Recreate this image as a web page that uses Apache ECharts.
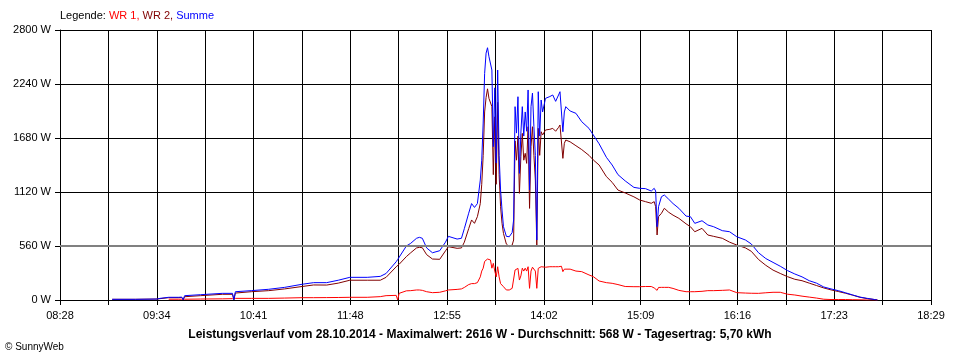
<!DOCTYPE html>
<html>
<head>
<meta charset="utf-8">
<script src="https://cdn.jsdelivr.net/npm/echarts@6/dist/echarts.min.js"></script>
<style>html,body{margin:0;padding:0;background:#fff}#c{width:960px;height:360px}</style>
</head>
<body>
<div id="c"></div>
<script>
const times = ['09:04','09:20','09:35','09:37','09:43','09:50','09:52','09:53','09:54','10:05',
'10:20','10:27','10:28','10:29','10:40','10:52','11:03','11:15','11:23','11:32',
'11:40','11:48','12:00','12:09','12:13','12:20','12:21','12:22','12:27','12:30',
'12:34','12:36','12:38','12:41','12:45','12:50','12:54','12:56','13:02','13:05',
'13:07','13:10','13:12','13:14','13:16','13:18','13:19','13:20','13:21','13:22',
'13:23','13:24','13:25','13:26','13:27','13:28','13:29','13:30','13:31','13:32',
'13:33','13:34','13:36','13:38','13:40','13:41','13:42','13:43','13:44','13:45',
'13:46','13:47','13:48','13:49','13:50','13:51','13:52','13:53','13:54','13:55',
'13:56','13:57','13:58','13:59','14:00','14:01','14:03','14:06','14:08','14:10',
'14:12','14:13','14:14','14:15','14:16','14:17','14:20','14:24','14:28','14:33',
'14:36','14:40','14:45','14:49','14:53','14:58','15:04','15:08','15:12','15:16',
'15:18','15:19','15:20','15:21','15:23','15:25','15:28','15:31','15:35','15:40',
'15:43','15:46','15:51','15:55','15:59','16:05','16:10','16:15','16:21','16:25',
'16:30','16:35','16:40','16:45','16:50','16:55','17:00','17:05','17:10','17:15',
'17:20','17:25','17:30','17:35','17:40','17:45','17:50','17:52'];

const summe = [7,7,10,17,28,28,30,3,45,55,
69,69,3,86,97,111,131,163,180,180,
205,235,235,245,275,397,420,440,560,588,
640,650,640,540,490,511,600,660,632,640,
740,900,1000,960,1000,1244,1450,1835,2350,2560,
2616,2523,2520,2385,1590,2200,1420,2385,1500,1141,
933,760,660,656,700,830,2005,1731,2108,1313,
1730,2005,1700,1950,1750,2178,1141,2005,2146,1800,
1500,622,2160,1700,2074,1950,2091,2110,2126,2060,
2126,2160,2178,1745,1950,2005,1960,1936,1849,1780,
1711,1620,1480,1400,1300,1235,1168,1158,1155,1130,
1158,1130,760,968,1071,1089,1045,1000,951,870,
864,795,822,778,760,719,708,656,622,581,
490,430,390,350,305,270,240,200,175,135,
115,97,75,52,30,17,5,0];

const wr2 = [7,7,10,14,24,24,26,3,34,45,
59,59,3,72,86,97,115,140,156,155,
175,205,205,205,235,345,360,370,450,490,
540,546,542,470,425,422,510,553,536,540,
600,740,830,795,864,1000,1200,1500,1950,2100,
2190,2090,2100,2005,1300,1900,1200,2050,1300,968,
795,690,580,553,570,622,1650,1450,1700,1106,
1486,1728,1450,1521,1417,1797,950,1590,1797,1500,
1244,570,1780,1500,1745,1711,1763,1770,1780,1750,
1790,1815,1832,1469,1625,1659,1640,1600,1560,1500,
1452,1400,1280,1220,1140,1110,1070,1037,1020,1003,
1020,968,674,864,899,951,910,880,847,790,
760,708,743,674,660,640,600,570,540,505,
420,360,310,275,242,215,200,175,150,125,
105,88,70,50,28,14,5,0];

const wr1 = [null,null,null,null,8,8,8,3,8,10,
12,14,14,17,17,17,20,24,24,25,
26,28,28,35,45,48,0,69,95,97,
104,104,100,86,76,80,95,104,110,115,
130,160,170,170,180,240,300,330,400,420,
425,420,415,330,380,300,240,345,240,170,
150,138,104,104,121,140,311,300,328,207,
250,330,300,330,300,345,121,300,340,330,
300,121,328,320,345,330,340,345,345,345,
345,350,350,294,320,328,320,300,294,260,
242,197,180,173,160,140,138,138,140,140,
125,121,100,130,131,131,131,120,100,86,
86,86,90,97,97,100,104,76,72,70,
69,75,80,80,60,52,40,30,20,8,
5,5,5,3,2,0,0,0];

const xTickLabels = ['08:28','09:34','10:41','11:48','12:55','14:02','15:09','16:16','17:23','18:29'];
const yTicks = [0,560,1120,1680,2240,2800];

const toMin = s => { const p = s.split(':'); return (+p[0])*60 + (+p[1]); };
const xMin = toMin(xTickLabels[0]);
const xMax = toMin(xTickLabels[xTickLabels.length-1]);
const pairs = arr => times.map((t,i) => [toMin(t), arr[i]]);

const FONT = 'Liberation Sans';
const chart = echarts.init(document.getElementById('c'), null, {renderer:'canvas'});
chart.setOption({
  animation: false,
  backgroundColor: '#fff',
  textStyle: {fontFamily: FONT},
  title: [
    {text: '{k|Legende: }{a|WR 1, }{b|WR 2, }{c|Summe}', left: 60, top: 10, padding: 0,
     textStyle: {fontSize: 11, fontWeight: 'normal', fontFamily: FONT,
       rich: {k:{color:'#000',fontSize:11,fontFamily:FONT}, a:{color:'#ff0000',fontSize:11,fontFamily:FONT},
              b:{color:'#800000',fontSize:11,fontFamily:FONT}, c:{color:'#0000ff',fontSize:11,fontFamily:FONT}}}},
    {text: 'Leistungsverlauf vom 28.10.2014 - Maximalwert: 2616 W - Durchschnitt: 568 W - Tagesertrag: 5,70 kWh',
     left: 'center', top: 329, padding: 0,
     textStyle: {fontSize: 12, fontWeight: 'bold', color: '#000', fontFamily: FONT}},
    {text: '© SunnyWeb', left: 5, top: 342, padding: 0,
     textStyle: {fontSize: 10, fontWeight: 'normal', color: '#000', fontFamily: FONT}}
  ],
  grid: {left: 60, right: 29, top: 30, bottom: 60, containLabel: false},
  xAxis: [
    {type: 'value', min: 0, max: 18, interval: 1,
     axisLine: {show: true, lineStyle: {color: '#000', width: 1}},
     axisTick: {show: true, length: 5, lineStyle: {color: '#000'}},
     splitLine: {show: true, lineStyle: {color: '#000', width: 1}},
     axisLabel: {show: true, color: '#000', fontSize: 11, fontFamily: FONT, margin: 10,
       formatter: v => (Math.round(v) % 2 === 0 ? xTickLabels[Math.round(v)/2] : '')}},
    {type: 'value', min: xMin, max: xMax, show: false}
  ],
  yAxis: {type: 'value', min: 0, max: 2800, interval: 560,
    axisLine: {show: true, lineStyle: {color: '#000', width: 1}},
    axisTick: {show: true, length: 5, lineStyle: {color: '#000'}},
    splitLine: {show: true, lineStyle: {color: '#000', width: 1}},
    axisLabel: {color: '#000', fontSize: 11, fontFamily: FONT, margin: 9, formatter: v => v + ' W'}},
  series: [
    {name: 'ref', type: 'line', xAxisIndex: 1, data: [], silent: true,
     markLine: {silent: true, symbol: 'none', label: {show: false},
       lineStyle: {color: '#808080', width: 2, type: 'solid'}, data: [{yAxis: yTicks[1]}]}},
    {name: 'WR 1', type: 'line', xAxisIndex: 1, data: pairs(wr1), showSymbol: false,
     lineStyle: {color: '#ff0000', width: 1}, itemStyle: {color: '#ff0000'}, connectNulls: false},
    {name: 'WR 2', type: 'line', xAxisIndex: 1, data: pairs(wr2), showSymbol: false,
     lineStyle: {color: '#800000', width: 1}, itemStyle: {color: '#800000'}},
    {name: 'Summe', type: 'line', xAxisIndex: 1, data: pairs(summe), showSymbol: false,
     lineStyle: {color: '#0000ff', width: 1}, itemStyle: {color: '#0000ff'}}
  ]
});
</script>
</body>
</html>
